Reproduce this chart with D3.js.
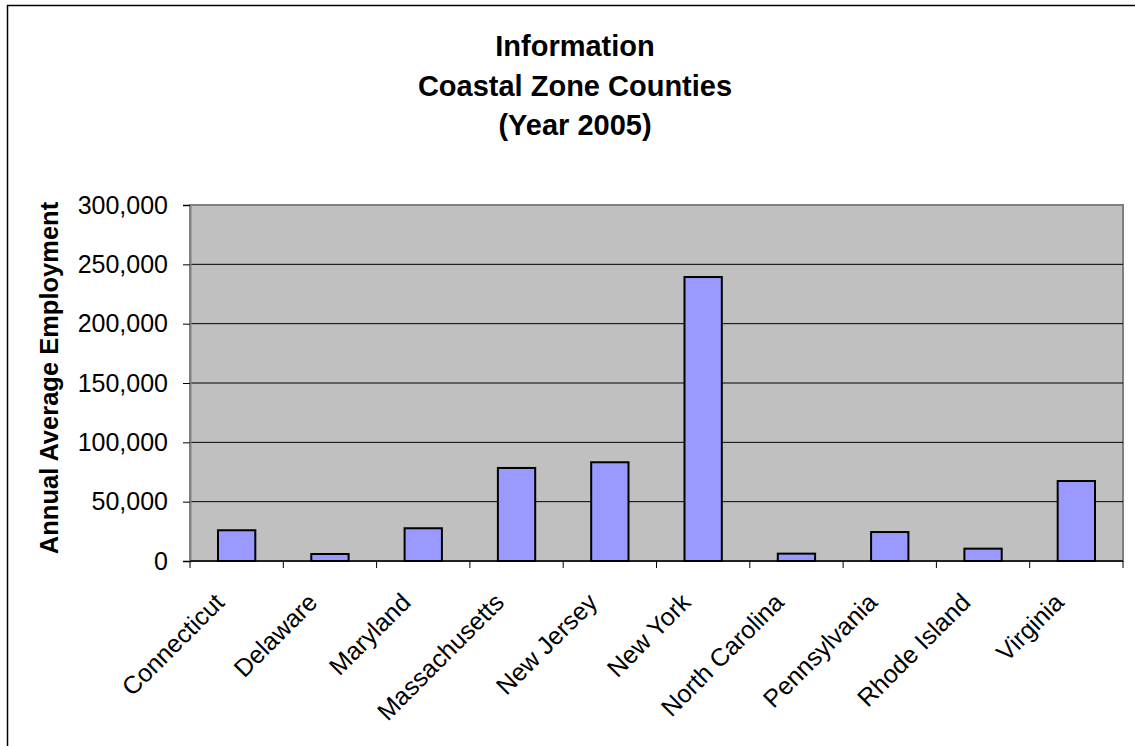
<!DOCTYPE html>
<html>
<head>
<meta charset="utf-8">
<script src="https://cdn.jsdelivr.net/npm/d3@7"></script>
<style>
    body { margin: 0; background: #fff; }
    svg { display: block; font-family: "Liberation Sans", Arial, sans-serif; }
</style>
</head>
<body>
<svg id="chart" width="1135" height="746"></svg>
<script>
// data
const states = ['Connecticut', 'Delaware', 'Maryland', 'Massachusetts', 'New Jersey',
    'New York', 'North Carolina', 'Pennsylvania', 'Rhode Island', 'Virginia'];
const employment = [25900, 5900, 27600, 78400, 83200, 239300, 6200, 24400, 10400, 67400];
const yTicks = [0, 50000, 100000, 150000, 200000, 250000, 300000];
const titleLines = ['Information', 'Coastal Zone Counties', '(Year 2005)'];

const svg = d3.select("#chart");

const plot = { left: 190, top: 205, right: 1123, bottom: 561 };

// outer chart border (runs off the window on right / bottom)
svg.append("rect")
    .attr("x", 7.5).attr("y", 5.5)
    .attr("width", 1200).attr("height", 800)
    .attr("fill", "#fff")
    .attr("stroke", "#000")
    .attr("stroke-width", 1.5);

let y = d3.scaleLinear().domain([0, 300000]).range([plot.bottom, plot.top]);

let xCat = d3.scaleBand().domain(states).range([plot.left, plot.right]).padding(0);

let x = d3.scaleBand().domain(states).range([plot.left, plot.right])
    .paddingInner(0.6).paddingOuter(0.3);

// plot area
svg.append("rect")
    .attr("x", plot.left).attr("y", plot.top)
    .attr("width", plot.right - plot.left)
    .attr("height", plot.bottom - plot.top)
    .attr("fill", "#c0c0c0")
    .attr("stroke", "#808080")
    .attr("stroke-width", 2);

// gridlines
svg.append("g").selectAll("line.grid")
    .data(yTicks.filter(d => d > 0 && d < 300000))
    .enter()
    .append("line")
    .attr("class", "grid")
    .attr("x1", plot.left).attr("x2", plot.right)
    .attr("y1", d => y(d)).attr("y2", d => y(d))
    .attr("stroke", "#000")
    .attr("stroke-width", 1);

// bars
svg.append("g").selectAll("rect.bar")
    .data(employment)
    .enter()
    .append("rect")
    .attr("class", "bar")
    .attr("x", (d, i) => x(states[i]))
    .attr("y", d => y(d))
    .attr("width", x.bandwidth())
    .attr("height", d => y(0) - y(d))
    .attr("fill", "#9999ff")
    .attr("stroke", "#000")
    .attr("stroke-width", 2);

// y axis
let yAxis = svg.append("g")
    .attr("transform", "translate(" + plot.left + ",0)")
    .call(d3.axisLeft(y).tickValues(yTicks).tickFormat(d3.format(",")).tickSize(7).tickPadding(15));
yAxis.select(".domain").attr("stroke", "#808080").attr("stroke-width", 2);
yAxis.selectAll(".tick line").attr("stroke", "#000");
yAxis.selectAll(".tick text")
    .attr("font-family", "Liberation Sans, Arial, sans-serif")
    .attr("font-size", 25)
    .attr("fill", "#000");

// x axis line + ticks at category boundaries
svg.append("line")
    .attr("x1", plot.left).attr("x2", plot.right)
    .attr("y1", plot.bottom).attr("y2", plot.bottom)
    .attr("stroke", "#000").attr("stroke-width", 1.5);

let bounds = states.map(d => xCat(d)).concat([plot.right]);
svg.append("g").selectAll("line.xtick")
    .data(bounds)
    .enter()
    .append("line")
    .attr("class", "xtick")
    .attr("x1", d => d).attr("x2", d => d)
    .attr("y1", plot.bottom).attr("y2", plot.bottom + 7)
    .attr("stroke", "#000");

// category labels, rotated
svg.append("g").selectAll("text.cat")
    .data(states)
    .enter()
    .append("text")
    .attr("class", "cat")
    .attr("text-anchor", "end")
    .attr("font-size", 25)
    .attr("transform", d => "translate(" + (xCat(d) + xCat.bandwidth() / 2 - 11) + ",604) rotate(-45)")
    .text(d => d);

// axis title
svg.append("text")
    .attr("text-anchor", "middle")
    .attr("font-size", 25.5)
    .attr("font-weight", "bold")
    .attr("transform", "translate(58,378) rotate(-90)")
    .text("Annual Average Employment");

// chart title
svg.append("g").selectAll("text.title")
    .data(titleLines)
    .enter()
    .append("text")
    .attr("class", "title")
    .attr("text-anchor", "middle")
    .attr("font-size", 29)
    .attr("font-weight", "bold")
    .attr("x", 575)
    .attr("y", (d, i) => 56 + i * 39.5)
    .text(d => d);
</script>
</body>
</html>
